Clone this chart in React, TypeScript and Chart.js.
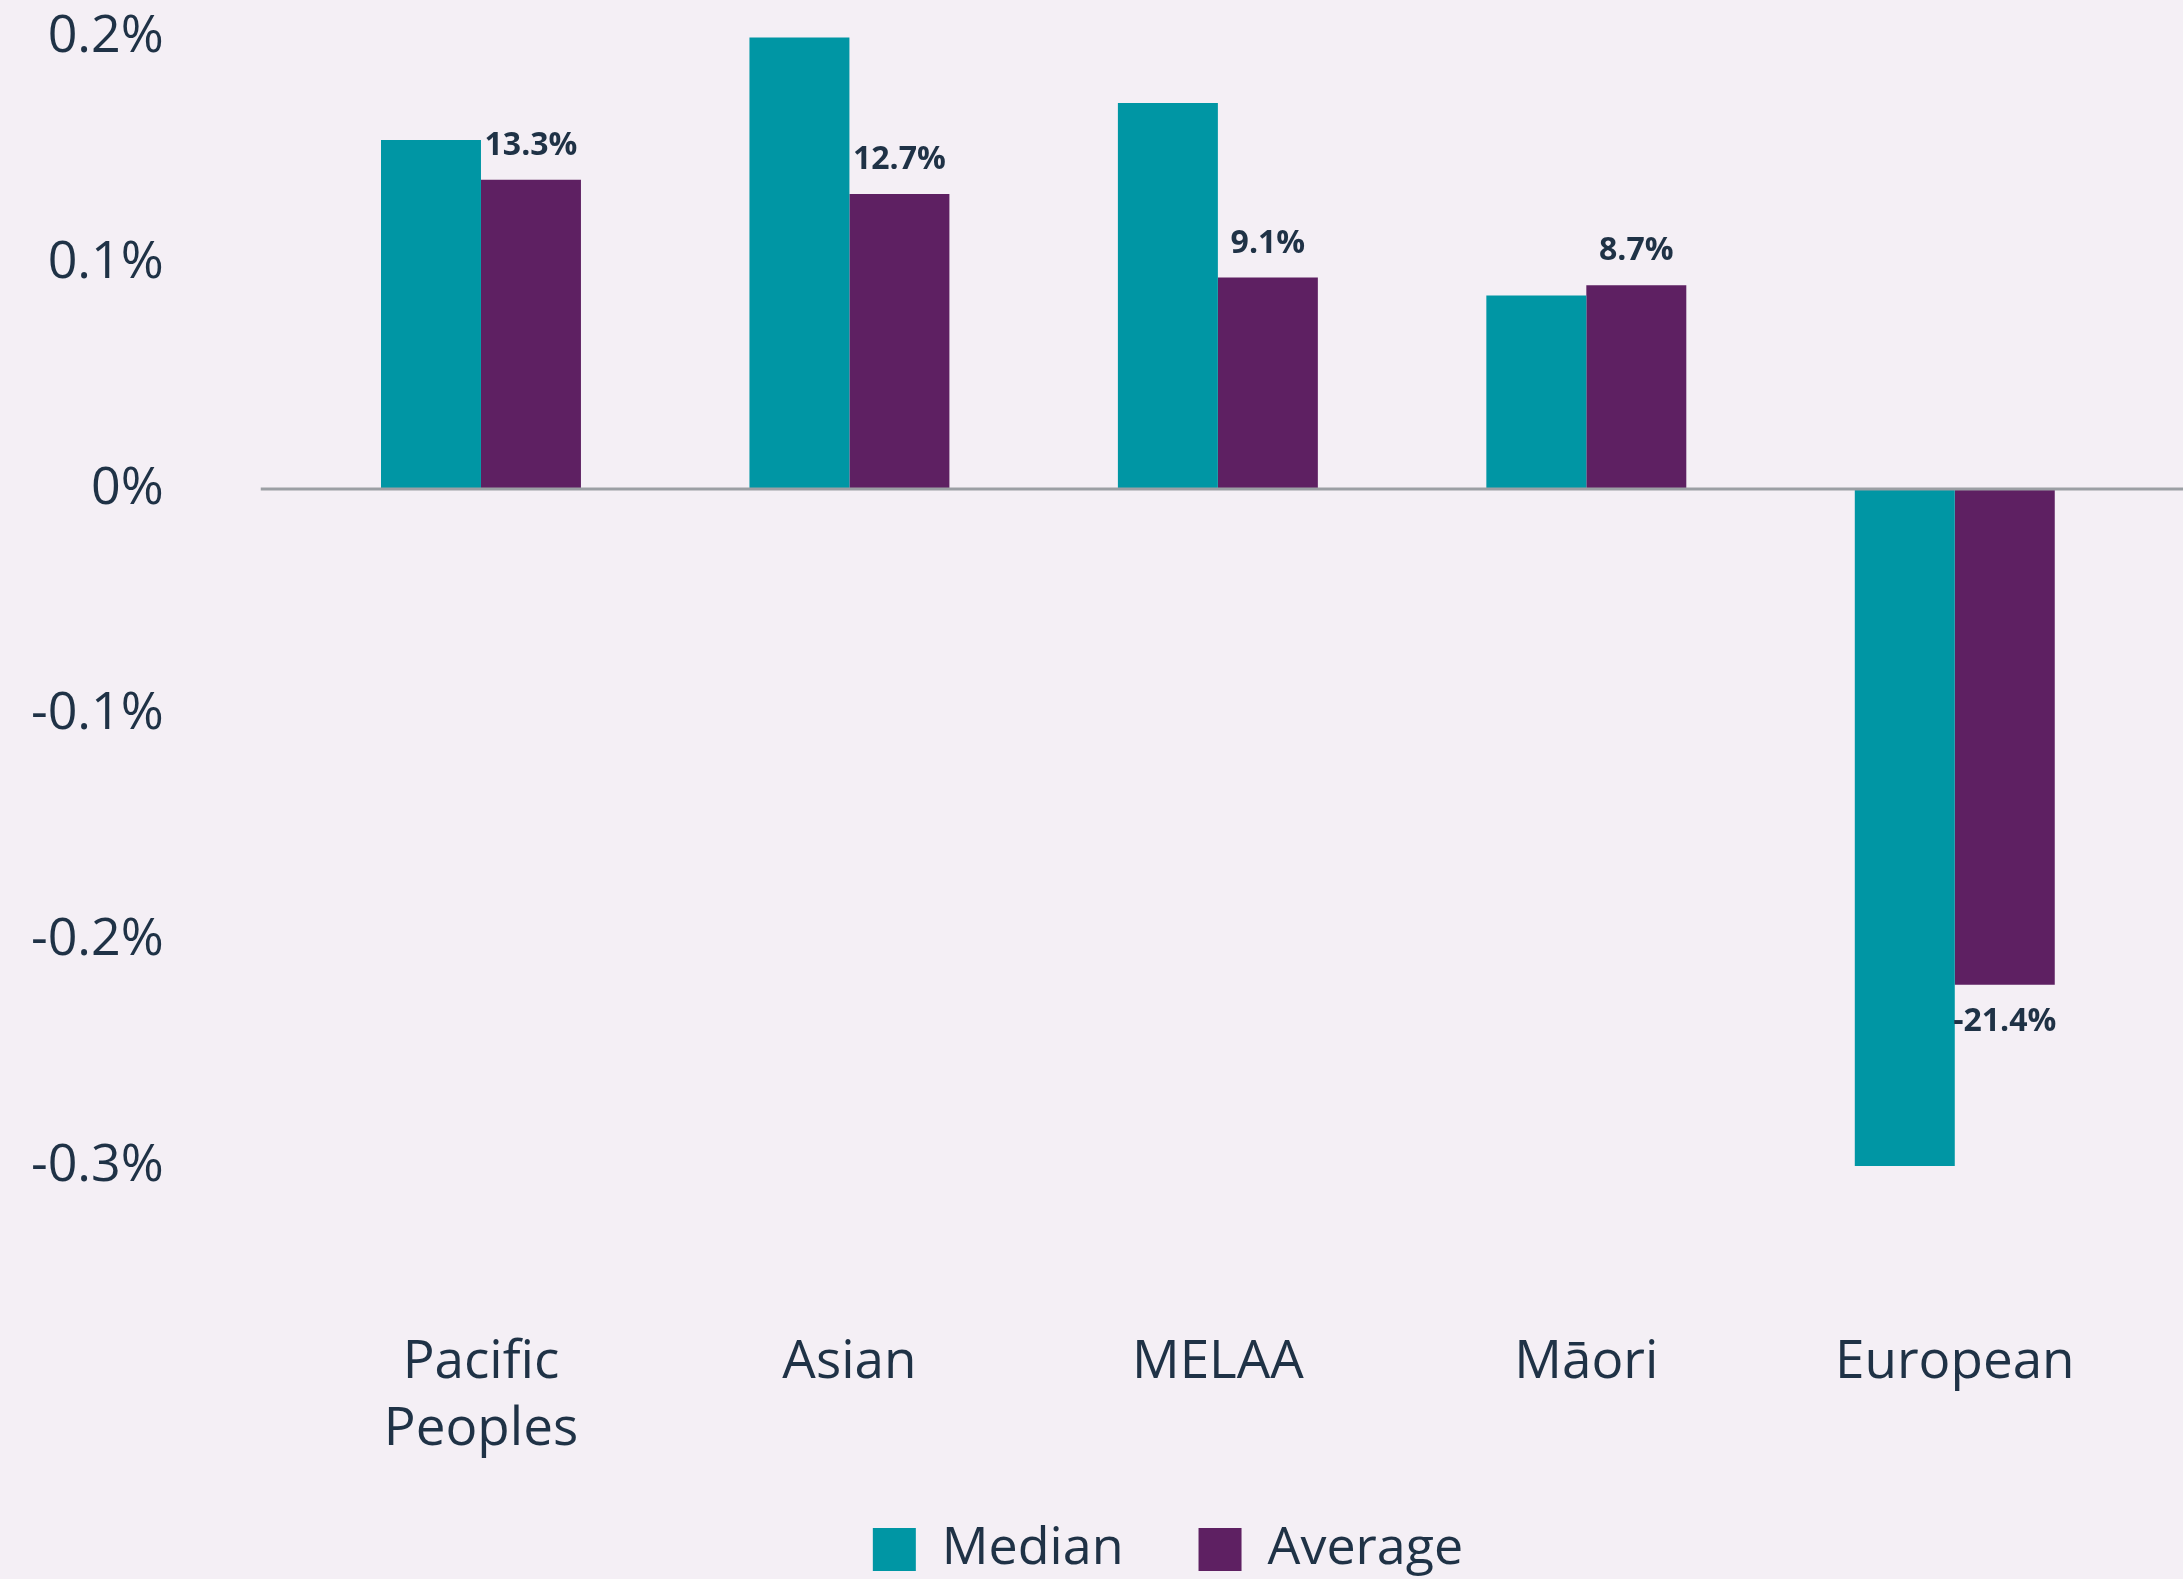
import React, { useEffect, useRef } from "react";
import { Chart, registerables } from "chart.js";

Chart.register(...registerables);

const categories: (string | string[])[] = [["Pacific", "Peoples"], "Asian", "MELAA", "Māori", "European"];
const medianValues = [0.1546, 0.2011, 0.171, 0.0857, -0.3];
const averageValues = [0.137, 0.1307, 0.0937, 0.0902, -0.2197];
const averageLabels = ["13.3%", "12.7%", "9.1%", "8.7%", "-21.4%"];
const yTickValues = [-0.3, -0.2, -0.1, 0, 0.1, 0.2];
const yTickLabels = ["-0.3%", "-0.2%", "-0.1%", "0%", "0.1%", "0.2%"];
const seriesNames = ["Median", "Average"];

const TEAL = "#0096a4";
const PURPLE = "#5e2062";
const TEXT = "#1f3246";
const BG = "#f4eff5";
const FONT = "'Open Sans', sans-serif";

const zeroLinePlugin = {
  id: "zeroLine",
  afterDatasetsDraw(chart: any) {
    const { ctx, chartArea, scales } = chart;
    const y = scales.y.getPixelForValue(0);
    ctx.save();
    ctx.strokeStyle = "#9b9fa4";
    ctx.lineWidth = 3;
    ctx.beginPath();
    ctx.moveTo(chartArea.left - 36, y);
    ctx.lineTo(chart.width, y);
    ctx.stroke();
    ctx.restore();
  },
};

const valueLabelPlugin = {
  id: "valueLabels",
  afterDatasetsDraw(chart: any) {
    const { ctx } = chart;
    const meta = chart.getDatasetMeta(1);
    ctx.save();
    ctx.font = `bold 32px ${FONT}`;
    ctx.fillStyle = TEXT;
    ctx.textAlign = "center";
    ctx.textBaseline = "middle";
    meta.data.forEach((el: any, i: number) => {
      const v = averageValues[i];
      const y = v >= 0 ? el.y - 34 : el.y + 37;
      ctx.fillText(averageLabels[i], el.x, y);
    });
    ctx.restore();
  },
};

// shifts the legend box so it is centred like the reference
const legendPlacePlugin = {
  id: "legendPlace",
  afterLayout(chart: any) {
    const lg = chart.legend;
    if (!lg) return;
    lg.left = 197;
    lg.top -= 17.5;
    lg.bottom -= 17.5;
  },
};

export default function App() {
  const ref = useRef<HTMLCanvasElement | null>(null);

  useEffect(() => {
    if (!ref.current) return;
    const chart = new Chart(ref.current, {
      type: "bar",
      data: {
        labels: categories,
        datasets: [
          { label: seriesNames[0], data: medianValues, backgroundColor: TEAL, borderWidth: 0 },
          { label: seriesNames[1], data: averageValues, backgroundColor: PURPLE, borderWidth: 0 },
        ],
      },
      options: {
        animation: false,
        responsive: false,
        maintainAspectRatio: false,
        devicePixelRatio: 1,
        datasets: { bar: { categoryPercentage: 0.5427, barPercentage: 1.0 } },
        layout: { padding: { left: 0, right: 44, top: 37.5, bottom: -24 } },
        plugins: {
          tooltip: { enabled: false },
          legend: {
            position: "bottom",
            align: "center",
            labels: {
              font: { family: FONT, size: 52 },
              color: TEXT,
              boxWidth: 43,
              boxHeight: 43,
              padding: 75,
            },
          },
        },
        scales: {
          x: {
            grid: { display: false, drawTicks: false },
            border: { display: false },
            ticks: {
              font: { family: FONT, size: 53, lineHeight: 1.27 },
              color: TEXT,
              padding: 163,
              maxRotation: 0,
              autoSkip: false,
            },
            afterFit: (s: any) => {
              s.height = 300;
              s.paddingLeft = 0;
              s.paddingRight = 0;
            },
          },
          y: {
            min: -0.3,
            max: 0.2,
            grid: { display: false, drawTicks: false },
            border: { display: false },
            afterBuildTicks: (s: any) => {
              s.ticks = yTickValues.map((v) => ({ value: v }));
            },
            afterFit: (s: any) => {
              s.width = 296.75;
              s.paddingTop = 0;
              s.paddingBottom = 0;
            },
            ticks: {
              font: { family: FONT, size: 52 },
              color: TEXT,
              padding: 133,
              callback: (value: any) => {
                const idx = yTickValues.findIndex((t) => Math.abs(t - Number(value)) < 1e-9);
                return idx >= 0 ? yTickLabels[idx] : "";
              },
            },
          },
        },
      },
      plugins: [zeroLinePlugin, valueLabelPlugin, legendPlacePlugin],
    });
    return () => chart.destroy();
  }, []);

  return (
    <div style={{ position: "fixed", left: 0, top: 0, width: 2183, height: 1579, background: BG, overflow: "hidden" }}>
      <canvas ref={ref} width={2183} height={1579} style={{ display: "block", width: 2183, height: 1579 }} />
    </div>
  );
}
